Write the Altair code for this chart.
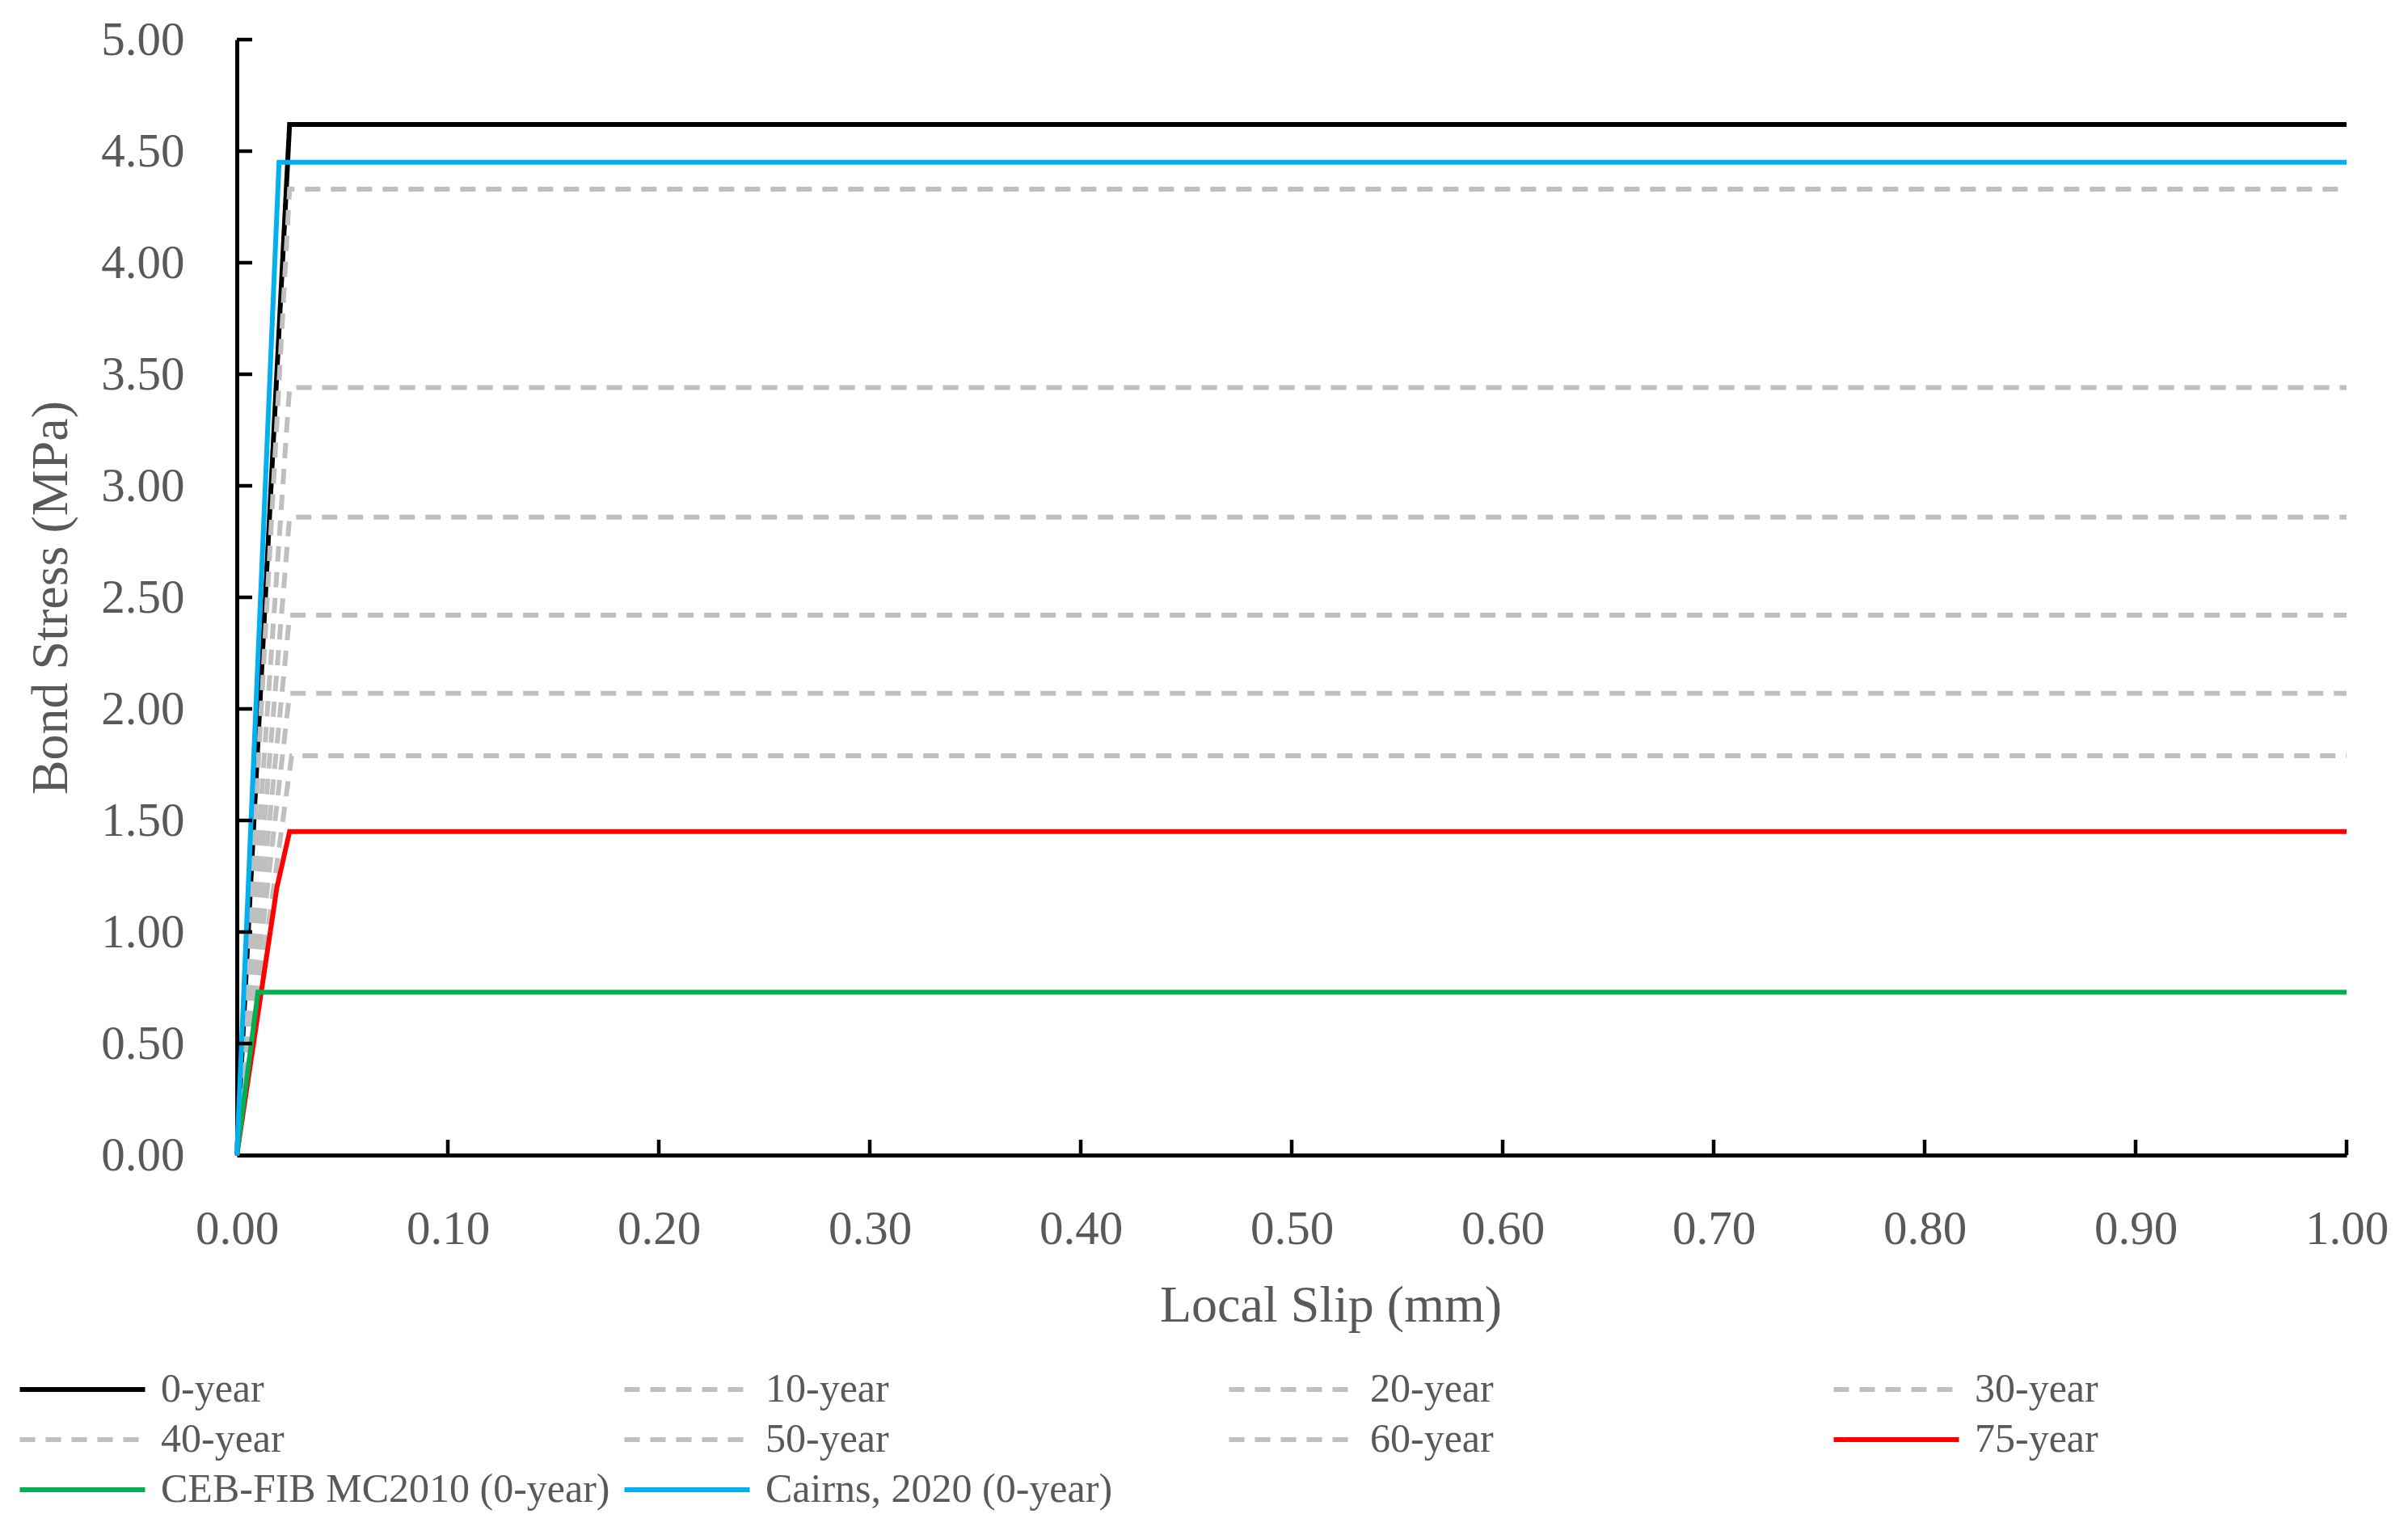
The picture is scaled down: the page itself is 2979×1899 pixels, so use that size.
import altair as alt
import pandas as pd

# ---------------- data ----------------
series_names = [
    "0-year", "10-year", "20-year", "30-year", "40-year", "50-year",
    "60-year", "75-year", "CEB-FIB MC2010 (0-year)", "Cairns, 2020 (0-year)",
]
series_colors = [
    "#000000", "#BFBFBF", "#BFBFBF", "#BFBFBF", "#BFBFBF", "#BFBFBF",
    "#BFBFBF", "#FF0000", "#00B050", "#00B0F0",
]
series_dashes = [
    [1, 0], [19, 13], [19, 13], [19, 13], [19, 13], [19, 13],
    [19, 13], [1, 0], [1, 0], [1, 0],
]

slip_0 = [0.0, 0.025, 1.0]
stress_0 = [0.0, 4.62, 4.62]
slip_10 = [0.0, 0.025, 1.0]
stress_10 = [0.0, 4.33, 4.33]
slip_20 = [0.0, 0.025, 1.0]
stress_20 = [0.0, 3.44, 3.44]
slip_30 = [0.0, 0.025, 1.0]
stress_30 = [0.0, 2.86, 2.86]
slip_40 = [0.0, 0.025, 1.0]
stress_40 = [0.0, 2.42, 2.42]
slip_50 = [0.0, 0.025, 1.0]
stress_50 = [0.0, 2.07, 2.07]
slip_60 = [0.0, 0.026, 1.0]
stress_60 = [0.0, 1.79, 1.79]
slip_75 = [0.0, 0.019, 0.025, 1.0]
stress_75 = [0.0, 1.20, 1.45, 1.45]
slip_mc = [0.0, 0.010, 1.0]
stress_mc = [0.0, 0.73, 0.73]
slip_cairns = [0.0, 0.020, 1.0]
stress_cairns = [0.0, 4.45, 4.45]

x_tick_values = [0.0, 0.1, 0.2, 0.3, 0.4, 0.5, 0.6, 0.7, 0.8, 0.9, 1.0]
y_tick_values = [0.0, 0.5, 1.0, 1.5, 2.0, 2.5, 3.0, 3.5, 4.0, 4.5, 5.0]

series_points = [
    (slip_0, stress_0), (slip_10, stress_10), (slip_20, stress_20),
    (slip_30, stress_30), (slip_40, stress_40), (slip_50, stress_50),
    (slip_60, stress_60), (slip_75, stress_75), (slip_mc, stress_mc),
    (slip_cairns, stress_cairns),
]

rows = []
for si, (name, (xs, ys)) in enumerate(zip(series_names, series_points)):
    for i, (x, y) in enumerate(zip(xs, ys)):
        rows.append({"series": name, "slip": x, "stress": y, "idx": i, "sidx": si})
df = pd.DataFrame(rows)

xt = pd.DataFrame({"slip": x_tick_values[1:]})
yt = pd.DataFrame({"stress": y_tick_values[1:]})

# ---------------- layout ----------------
W, H = 2610, 1380
FONT = "Liberation Serif"
GREY = "#595959"
TICK = 19

x_scale = alt.Scale(domain=[0, 1], nice=False, zero=True)
y_scale = alt.Scale(domain=[0, 5], nice=False)

x_axis = alt.Axis(values=x_tick_values, format=".2f", title="Local Slip (mm)", labelFlush=False,
                  titleX=1353, titleY=186, titleBaseline="middle", titleAlign="center")
y_axis = alt.Axis(values=y_tick_values, format=".2f", title="Bond Stress (MPa)", labelFlush=False,
                  titleX=-230, titleY=690, titleBaseline="middle", titleAlign="center",
                  titleAngle=-90)

lines = alt.Chart(df).mark_line(strokeWidth=6, strokeJoin="miter").encode(
    x=alt.X("slip:Q", scale=x_scale, axis=x_axis),
    y=alt.Y("stress:Q", scale=y_scale, axis=y_axis),
    color=alt.Color("series:N", scale=alt.Scale(domain=series_names, range=series_colors),
                    legend=alt.Legend(title=None, orient="none", legendX=-220, legendY=1641,
                                      columns=4, direction="horizontal", gridAlign="all",
                                      symbolType="M-3,0H3", symbolSize=2670, symbolStrokeWidth=6,
                                      labelFont=FONT, labelFontSize=50, labelColor=GREY,
                                      labelOffset=68, columnPadding=5, rowPadding=8,
                                      labelLimit=1000)),
    strokeDash=alt.StrokeDash("series:N", scale=alt.Scale(domain=series_names, range=series_dashes),
                              legend=alt.Legend(title=None)),
    order=alt.Order("idx:Q"),
    detail="sidx:Q",
)

xticks = alt.Chart(xt).mark_rule(color="black", strokeWidth=4.5).encode(
    x=alt.X("slip:Q", scale=x_scale, axis=x_axis),
    y=alt.value(H),
    y2=alt.value(H - TICK),
)
yticks = alt.Chart(yt).mark_rule(color="black", strokeWidth=4.5).encode(
    y=alt.Y("stress:Q", scale=y_scale, axis=y_axis),
    x=alt.value(0),
    x2=alt.value(TICK),
)

chart = alt.layer(lines, xticks, yticks).properties(
    width=W, height=H,
    autosize=alt.AutoSizeParams(type="none"),
    padding={"left": 285, "top": 41, "right": 60, "bottom": 440},
).configure_view(stroke=None).configure_axis(
    ticks=False, grid=False, domainColor="black", domainWidth=5,
    labelFont=FONT, labelFontSize=59, labelColor=GREY, labelPadding=62,
    titleFont=FONT, titleFontSize=64, titleColor=GREY, titleFontWeight="normal",
).configure_axisY(labelPadding=65)

chart.save("out.html", embed_options={"renderer": "svg", "actions": False})
